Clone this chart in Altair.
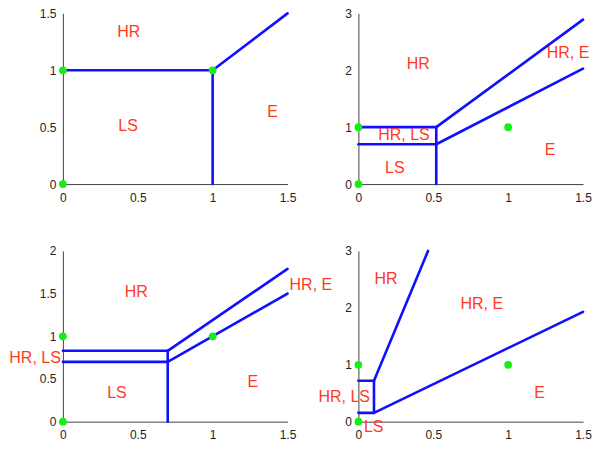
import altair as alt
import pandas as pd

# ---------------- data ----------------
x_ticks = [0, 0.5, 1, 1.5]

# green points (same in all panels)
pt_x = [0, 0, 1]
pt_y = [0, 1, 1]

# panel 1
p1_y_dom = [0, 1.5]
p1_y_ticks = [0, 0.5, 1, 1.5]
p1_x1 = [0, 1, 1]
p1_y1 = [1, 0, 1]
p1_x2 = [1, 1, 1.5]
p1_y2 = [1, 1, 1.5]
p1_lab = ["HR", "LS", "E"]
p1_lx = [0.44, 0.435, 1.4]
p1_ly = [1.34, 0.51, 0.63]

# panel 2
p2_y_dom = [0, 3]
p2_y_ticks = [0, 1, 2, 3]
p2_x1 = [0, 0, 0.52, 0.52, 0.52]
p2_y1 = [1, 0.7, 0, 1, 0.7]
p2_x2 = [0.52, 0.52, 0.52, 1.5, 1.5]
p2_y2 = [1, 0.7, 1, 2.89, 2.03]
p2_lab = ["HR", "HR, LS", "LS", "E", "HR, E"]
p2_lx = [0.4, 0.304, 0.243, 1.28, 1.40]
p2_ly = [2.11, 0.86, 0.29, 0.6, 2.3]

# panel 3
p3_y_dom = [0, 2]
p3_y_ticks = [0, 0.5, 1, 1.5, 2]
p3_x1 = [0, 0, 0.7, 0.7, 0.7]
p3_y1 = [0.83, 0.7, 0, 0.83, 0.7]
p3_x2 = [0.7, 0.7, 0.7, 1.5, 1.5]
p3_y2 = [0.83, 0.7, 0.83, 1.79, 1.5]
p3_lab = ["HR", "HR, LS", "LS", "E", "HR, E"]
p3_lx = [0.49, -0.186, 0.361, 1.268, 1.656]
p3_ly = [1.52, 0.743, 0.333, 0.468, 1.6]

# panel 4
p4_y_dom = [0, 3]
p4_y_ticks = [0, 1, 2, 3]
p4_x1 = [0, 0, 0.104, 0.104, 0.104]
p4_y1 = [0.72, 0.155, 0.155, 0.72, 0.155]
p4_x2 = [0.104, 0.104, 0.104, 0.465, 1.5]
p4_y2 = [0.72, 0.155, 0.72, 3, 1.93]
p4_lab = ["HR", "HR, E", "HR, LS", "LS", "E"]
p4_lx = [0.185, 0.824, -0.095, 0.102, 1.21]
p4_ly = [2.51, 2.07, 0.43, -0.1, 0.5]

BLUE = "#1010ff"
GREEN = "#16ee16"
RED = "#ff3a1f"
FONT = "Liberation Sans"
W, H = 225, 171


def panel(y_dom, y_ticks, x1, y1, x2, y2, lab, lx, ly):
    xs = alt.Scale(domain=[0, 1.5], nice=False, zero=False)
    ys = alt.Scale(domain=y_dom, nice=False, zero=False)
    xax = alt.Axis(values=x_ticks, format="~g", title=None, grid=False,
                   tickSize=0, labelPadding=8, labelFlush=False)
    yax = alt.Axis(values=y_ticks, format="~g", title=None, grid=False,
                   tickSize=0, labelPadding=7, labelFlush=False)

    seg = pd.DataFrame({"x1": x1, "y1": y1, "x2": x2, "y2": y2})
    pts = pd.DataFrame({"x": pt_x, "y": pt_y})
    txt = pd.DataFrame({"t": lab, "x": lx, "y": ly})

    rules = alt.Chart(seg).mark_rule(color=BLUE, strokeWidth=2.6, strokeCap="round").encode(
        x=alt.X("x1:Q", scale=xs, axis=xax),
        y=alt.Y("y1:Q", scale=ys, axis=yax),
        x2="x2:Q",
        y2="y2:Q",
    )
    points = alt.Chart(pts).mark_circle(color=GREEN, size=60, opacity=1).encode(
        x=alt.X("x:Q", scale=xs, axis=xax),
        y=alt.Y("y:Q", scale=ys, axis=yax),
    )
    texts = alt.Chart(txt).mark_text(color=RED, font=FONT, fontSize=16,
                                     align="center", baseline="middle").encode(
        x=alt.X("x:Q", scale=xs, axis=xax),
        y=alt.Y("y:Q", scale=ys, axis=yax),
        text="t:N",
    )
    return alt.layer(rules, points, texts).properties(width=W, height=H)


c1 = panel(p1_y_dom, p1_y_ticks, p1_x1, p1_y1, p1_x2, p1_y2, p1_lab, p1_lx, p1_ly)
c2 = panel(p2_y_dom, p2_y_ticks, p2_x1, p2_y1, p2_x2, p2_y2, p2_lab, p2_lx, p2_ly)
c3 = panel(p3_y_dom, p3_y_ticks, p3_x1, p3_y1, p3_x2, p3_y2, p3_lab, p3_lx, p3_ly)
c4 = panel(p4_y_dom, p4_y_ticks, p4_x1, p4_y1, p4_x2, p4_y2, p4_lab, p4_lx, p4_ly)

chart = alt.concat(
    c1, c2, c3, c4, columns=2, spacing={"row": 67, "column": 71}
).properties(
    bounds="flush", padding={"left": 1, "top": -1, "right": 0, "bottom": 0}
).configure_view(
    stroke=None
).configure_axis(
    domainColor="#444444",
    domainWidth=1,
    labelColor="#222222",
    labelFont=FONT,
    labelFontSize=12,
)

chart.save("out.html", embed_options={"renderer": "svg", "actions": False})
